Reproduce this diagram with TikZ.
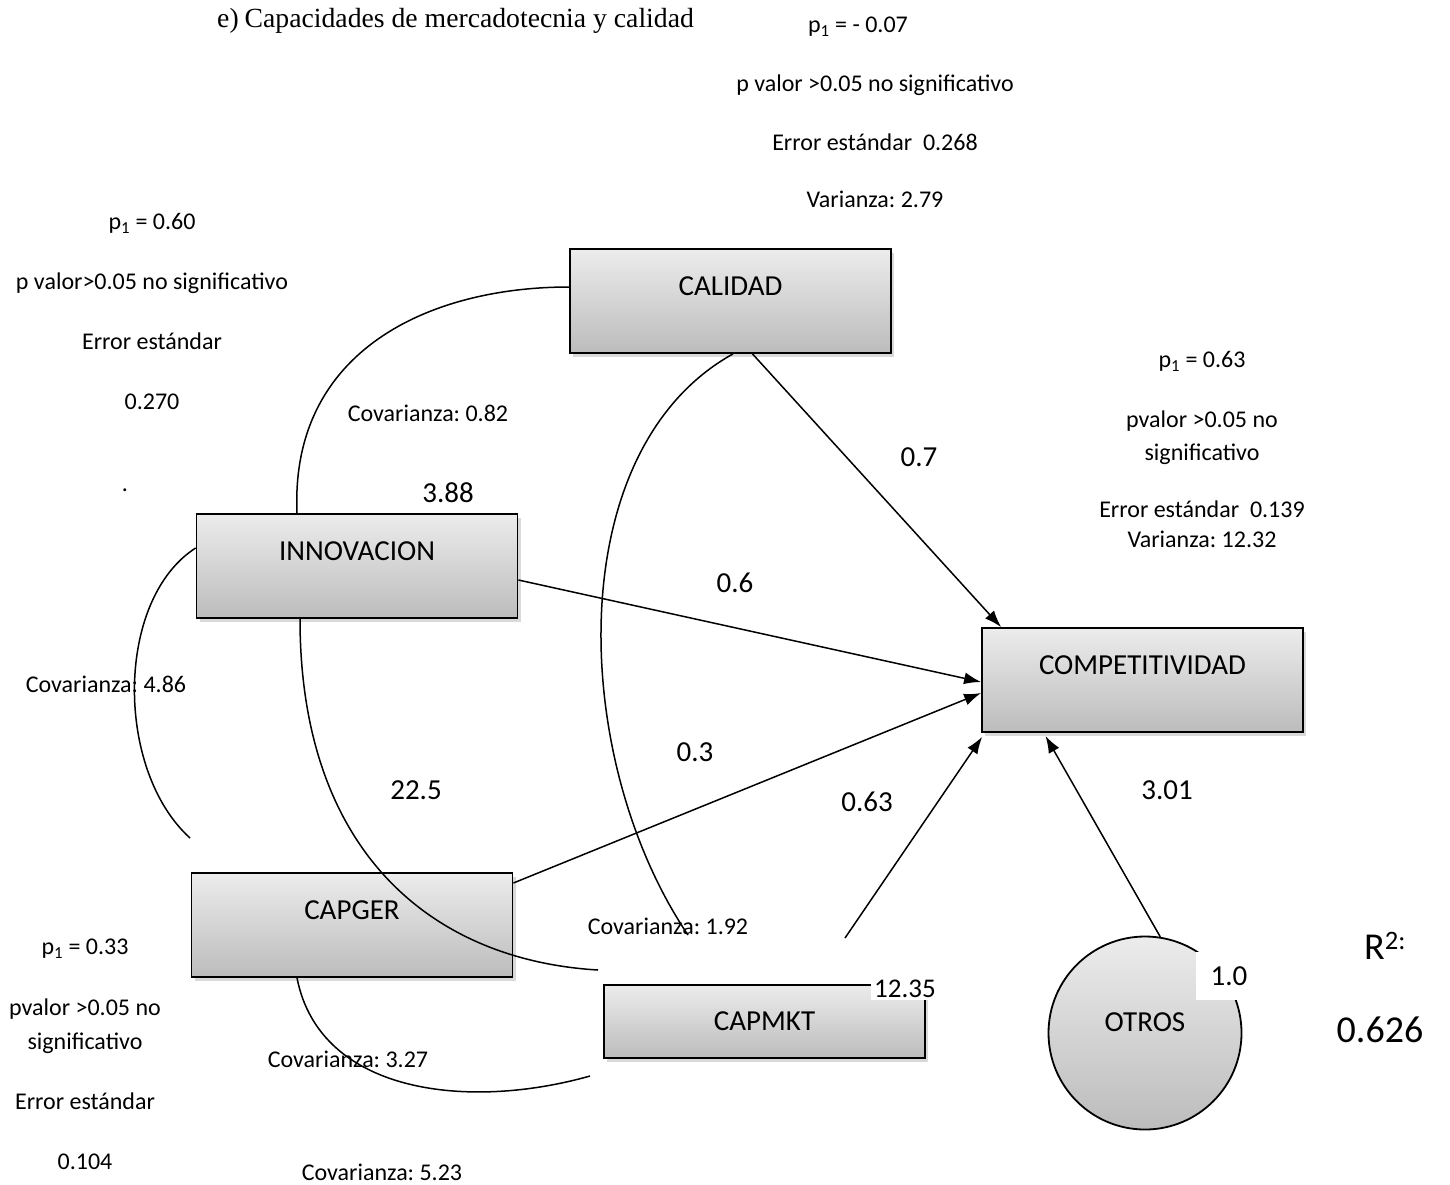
\documentclass[tikz,border=0pt]{standalone}
\usepackage{fontspec}
\setmainfont{Carlito}
\newfontfamily\timesf{Liberation Serif}
\usetikzlibrary{shadows,arrows.meta}
\frenchspacing
\newcommand\szS{\fontsize{24}{29}\selectfont}
\newcommand\szB{\fontsize{29}{35}\selectfont}
\newcommand\szR{\fontsize{38}{46}\selectfont}
\definecolor{boxtop}{RGB}{236,236,236}
\definecolor{boxbot}{RGB}{188,188,188}
\tikzset{
  boxnode/.style={draw=black, line width=1.8pt, rectangle, minimum width=321pt, minimum height=104pt,
    top color=boxtop, bottom color=boxbot,
    drop shadow={shadow xshift=3pt, shadow yshift=-4pt, opacity=0.3},
    font=\szB, text height=18.3pt, text depth=29.9pt, inner sep=0pt},
  txt/.style={font=\szS, inner sep=0pt, text height=15pt, text depth=0pt},
  num/.style={font=\szB, inner sep=0pt, text height=18.3pt, text depth=0pt},
  conn/.style={line width=1.5pt},
  arr/.style={conn, -{Latex[length=17pt,width=12pt]}},
}
\begin{document}
\begin{tikzpicture}[x=1pt,y=-1pt]
\useasboundingbox (0,0) rectangle (1450,1184);

% title
\node[font=\timesf\fontsize{27.7}{32}\selectfont, anchor=base west, inner sep=0pt] (title) at (217,27)
  {e)\hspace{6pt}Capacidades de mercadotecnia y calidad};

% boxes
\node[boxnode] (cal) at (730.5,301) {CALIDAD};
\node[boxnode] (inn) at (357,566) {INNOVACION};
\node[boxnode] (comp) at (1142.5,680) {COMPETITIVIDAD};
\node[boxnode] (capger) at (352,925) {CAPGER};
\node[boxnode, minimum height=73pt, text depth=0pt] (capmkt) at (764.5,1021.5) {CAPMKT};
\node[draw=black, line width=1.8pt, circle, minimum size=193pt, inner sep=0pt,
  top color=boxtop, bottom color=boxbot, font=\szB, text height=18.3pt, text depth=21.9pt] (otros) at (1145,1033) {OTROS};

% free ends
\coordinate (mk) at (845,938);
\coordinate (c486) at (190,838);
\coordinate (c225) at (598,970);
\coordinate (c192) at (688,935);
\coordinate (c327) at (590,1076);

% arrows
\draw[arr] ([xshift=22pt]cal.south) -- ([xshift=20pt]comp.north west);
\draw[arr] ([yshift=-14pt]inn.east) -- ([yshift=-2pt]comp.west);
\draw[arr] ([yshift=42pt]capger.east) -- ([yshift=-13pt]comp.west);
\draw[arr] (mk) -- ([xshift=1pt,yshift=-4pt]comp.south west);
\draw[arr] (otros.81) -- ([xshift=-97pt,yshift=-3pt]comp.south);

% covariance curves
\draw[conn] ([xshift=-60pt]inn.north) .. controls (290,350) and (430,287) .. ([yshift=14pt]cal.west);
\draw[conn] ([yshift=18pt]inn.west) .. controls (115,600) and (115,770) .. (c486);
\draw[conn] ([xshift=-57pt]inn.south) .. controls (300,850) and (430,960) .. (c225);
\draw[conn] ([xshift=2.5pt]cal.south) .. controls (560,450) and (570,760) .. (c192);
\draw[conn] ([xshift=-55pt]capger.south) .. controls (320,1095) and (470,1110) .. (c327);

% white labels
\node[num, fill=white, inner sep=3pt, font=\fontsize{27}{32}\selectfont] (l1235) at (905,988) {12.35};
\node[fill=white, minimum width=67pt, minimum height=48pt, inner sep=0pt, font=\szB] (l10) at (1229,976) {1.0};

% top group
\node[txt] (t1) at (858,25) {p\textsubscript{1} = - 0.07};
\node[txt] (t2) at (875,84) {p valor >0.05 no significativo};
\node[txt] (t3) at (875,143) {Error estándar\ \ 0.268};
\node[txt] (t4) at (875,200) {Varianza: 2.79};

% left group
\node[txt] (l1) at (152,222) {p\textsubscript{1} = 0.60};
\node[txt] (l2) at (152,282) {p valor>0.05 no significativo};
\node[txt] (l3) at (152,342) {Error estándar};
\node[txt] (l4) at (152,402) {0.270};
\node[font=\szS, inner sep=0pt, anchor=base] (l5) at (125,491) {.};

% right group
\node[txt] (r1) at (1202,360) {p\textsubscript{1} = 0.63};
\node[txt] (r2) at (1202,420) {pvalor >0.05 no};
\node[txt] (r3) at (1202,453) {significativo};
\node[txt] (r4) at (1202,510) {Error estándar\ \ 0.139};
\node[txt] (r5) at (1202,540) {Varianza: 12.32};

% bottom-left group
\node[txt] (b1) at (85,947) {p\textsubscript{1} = 0.33};
\node[txt] (b2) at (85,1008) {pvalor >0.05 no};
\node[txt] (b3) at (85,1042) {significativo};
\node[txt] (b4) at (85,1102) {Error estándar};
\node[txt] (b5) at (85,1162) {0.104};

% covariance labels
\node[txt] (cv1) at (428,414) {Covarianza: 0.82};
\node[txt] (cv2) at (106,685) {Covarianza: 4.86};
\node[txt] (cv3) at (668,927) {Covarianza: 1.92};
\node[txt] (cv4) at (348,1060) {Covarianza: 3.27};
\node[txt] (cv5) at (382,1173) {Covarianza: 5.23};

% coefficients
\node[num] (n388) at (448,493) {3.88};
\node[num] (n07) at (919,457) {0.7};
\node[num] (n06) at (735,583) {0.6};
\node[num] (n03) at (695,752) {0.3};
\node[num] (n225) at (416,790) {22.5};
\node[num] (n063) at (867,802) {0.63};
\node[num] (n301) at (1167,790) {3.01};

% R2
\node[font=\szR, inner sep=0pt, text height=24pt, text depth=0pt] (r2lab) at (1385,947) {R\textsuperscript{2:}};
\node[font=\szR, inner sep=0pt, text height=24pt, text depth=0pt] (r2val) at (1380,1030) {0.626};
\end{tikzpicture}
\end{document}
